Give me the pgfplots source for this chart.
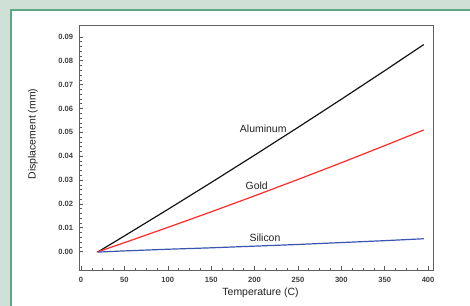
\documentclass[border=0pt]{standalone}
\usepackage{fontspec}
\setmainfont{Liberation Sans}
\usepackage{pgfplots}
\pgfplotsset{compat=1.18}
\definecolor{bgout}{HTML}{CFE0D6}
\definecolor{framec}{HTML}{5FA884}
\definecolor{alcol}{HTML}{151515}
\definecolor{aucol}{HTML}{FF2A2A}
\definecolor{sicol}{HTML}{3A55B0}
\definecolor{txt}{HTML}{222222}
\begin{document}
\begin{tikzpicture}
\path[use as bounding box] (0bp,0bp) rectangle (470bp,306bp);
\fill[bgout] (0bp,0bp) rectangle (470bp,306bp);
\fill[white] (11bp,0bp) rectangle (470bp,296bp);
\draw[framec, line width=1.8bp] (11bp,0bp) -- (11bp,296bp) -- (470bp,296bp);
\begin{axis}[
  at={(79.3bp,36bp)}, anchor=south west,
  scale only axis, width=354bp, height=245bp,
  xmin=-2, xmax=406, ymin=-0.0077, ymax=0.095,
  xtick={0,50,100,150,200,250,300,350,400},
  ytick={0,0.01,0.02,0.03,0.04,0.05,0.06,0.07,0.08,0.09},
  minor x tick num=3, minor y tick num=4,
  xtick pos=bottom, ytick pos=left, tick align=inside,
  major tick length=4bp, minor tick length=2.5bp,
  every tick/.style={draw=gray!70!black, line width=0.6bp},
  axis line style={draw=gray!75!black, line width=0.8bp},
  scaled y ticks=false,
  /pgf/number format/assume math mode=true,
  yticklabel style={/pgf/number format/fixed, /pgf/number format/fixed zerofill, /pgf/number format/precision=2},
  ticklabel style={font=\fontsize{7.6}{8}\selectfont\bfseries, text=black!75, inner sep=0pt},
  xticklabel style={anchor=center, yshift=-10bp},
  yticklabel style={anchor=east, xshift=-6bp},
  xlabel={Temperature (C)}, ylabel={Displacement (mm)},
  label style={font=\fontsize{10.5}{12}\selectfont, text=txt},
  xlabel style={anchor=center, at={(axis description cs:0.512,-0.0927)}},
  ylabel style={anchor=center, at={(axis description cs:-0.1308,0.555)}},
  clip=false,
]
\addplot[alcol, line width=1.2bp] coordinates {
 (20,0) (50,0.00658) (100,0.01769) (150,0.02897) (200,0.04043) (250,0.05206) (300,0.06387) (350,0.07585) (395,0.0868)};
\addplot[aucol, line width=1.2bp] coordinates {
 (18,-0.0001) (20,0) (50,0.00375) (100,0.01014) (150,0.01668) (200,0.02338) (250,0.03024) (300,0.03725) (350,0.04443) (395,0.051)};
\addplot[sicol, line width=1.2bp] coordinates {
 (19,-0.0002) (50,0.0003) (100,0.0010) (150,0.0016) (200,0.0023) (250,0.0030) (300,0.0038) (350,0.0046) (395,0.0054)};
\node[font=\fontsize{10.5}{12}\selectfont, text=txt] at (axis cs:210,0.0517) {Aluminum};
\node[font=\fontsize{10.5}{12}\selectfont, text=txt] at (axis cs:202.5,0.0278) {Gold};
\node[font=\fontsize{10.5}{12}\selectfont, text=txt] at (axis cs:212,0.0058) {Silicon};
\end{axis}
\end{tikzpicture}
\end{document}
